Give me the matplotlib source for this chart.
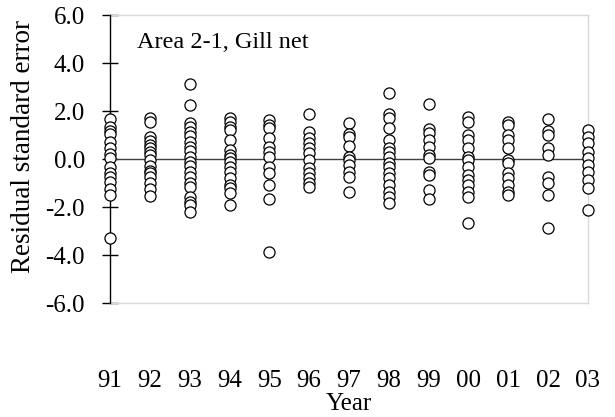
import matplotlib
matplotlib.use("Agg")
import matplotlib.pyplot as plt

years = ["91", "92", "93", "94", "95", "96", "97", "98", "99", "00", "01", "02", "03"]

r91 = [1.65, 1.35, 1.15, 1.05, 0.72, 0.45, 0.2, 0.05, -0.35, -0.6, -0.75, -0.95, -1.25, -1.5, -3.3]
r92 = [1.72, 1.55, 0.9, 0.75, 0.6, 0.45, 0.3, 0.15, -0.05, -0.3, -0.5, -0.6, -0.75, -1.0, -1.25, -1.55]
r93 = [3.13, 2.25, 1.49, 1.35, 1.14, 0.96, 0.72, 0.51, 0.35, 0.1, -0.11, -0.29, -0.53, -0.74, -0.99,
       -1.18, -1.57, -1.78, -1.92, -2.19]
r94 = [1.69, 1.56, 1.35, 1.21, 0.79, 0.38, 0.17, 0.03, -0.11, -0.32, -0.53, -0.81, -1.08, -1.22, -1.43, -1.92]
r95 = [1.63, 1.42, 1.28, 0.86, 0.51, 0.31, 0.07, -0.32, -0.57, -1.08, -1.68, -3.86]
r96 = [1.88, 1.14, 0.86, 0.65, 0.44, 0.24, -0.04, -0.39, -0.6, -0.81, -1.01, -1.15]
r97 = [1.51, 1.04, 0.9, 0.54, 0.1, -0.04, -0.25, -0.53, -0.76, -1.36]
r98 = [2.74, 1.86, 1.69, 1.28, 0.79, 0.44, 0.31, 0.1, -0.18, -0.32, -0.6, -0.81, -1.08, -1.36, -1.57, -1.82]
r99 = [2.28, 1.24, 1.07, 0.79, 0.51, 0.17, 0.03, -0.53, -0.67, -1.29, -1.68]
r00 = [1.76, 1.56, 1.0, 0.79, 0.44, 0.1, -0.04, -0.32, -0.67, -0.88, -1.08, -1.36, -1.57, -2.65]
r01 = [1.56, 1.42, 1.0, 0.79, 0.44, -0.04, -0.18, -0.6, -0.81, -1.08, -1.36, -1.5]
r02 = [1.65, 1.18, 1.0, 0.44, 0.17, -0.74, -1.01, -1.5, -2.89]
r03 = [1.21, 0.93, 0.65, 0.30, 0.03, -0.25, -0.53, -0.88, -1.22, -2.12]

residuals = [r91, r92, r93, r94, r95, r96, r97, r98, r99, r00, r01, r02, r03]

yticks = [6.0, 4.0, 2.0, 0.0, -2.0, -4.0, -6.0]

plt.rcParams['font.family'] = ['Liberation Serif', 'DejaVu Serif']

fig = plt.figure(figsize=(6.15, 4.17), dpi=100)
ax = fig.add_axes([110/615, 1-303/417, (588-110)/615, (303-15)/417])

ax.axhline(0, color='#404040', lw=1.0, zorder=2)

for i, vals in enumerate(residuals):
    ax.plot([i]*len(vals), vals, linestyle='none', marker='o', markersize=8,
            markerfacecolor='white', markeredgecolor='black', markeredgewidth=0.9,
            clip_on=False, zorder=5)

ax.set_xlim(0, 12)
ax.set_ylim(-6, 6)
ax.set_yticks(yticks)
ax.set_yticklabels([f"{v:.1f}" for v in yticks])
ax.set_xticks(range(len(years)))
ax.set_xticklabels(years)

ax.tick_params(axis='y', direction='inout', length=12, width=1.0, pad=12, labelsize=18)
ax.tick_params(axis='x', length=0, pad=48, labelsize=18)

for s in ['top', 'right', 'bottom']:
    ax.spines[s].set_color('#d9d9d9')
    ax.spines[s].set_linewidth(1.0)
ax.spines['left'].set_color('black')
ax.spines['left'].set_linewidth(1.0)
ax.spines['left'].set_zorder(3)

ax.set_xlabel('Year', fontsize=18, labelpad=1)
ax.set_ylabel('Residual standard error', fontsize=19.5)
ax.yaxis.set_label_coords((36 - 110) / 478, 0.545)

ax.text(137/615, 1-43/417, 'Area 2-1, Gill net', transform=fig.transFigure,
        fontsize=17.5, ha='left', va='center')

fig.savefig('out.png', dpi=100)
